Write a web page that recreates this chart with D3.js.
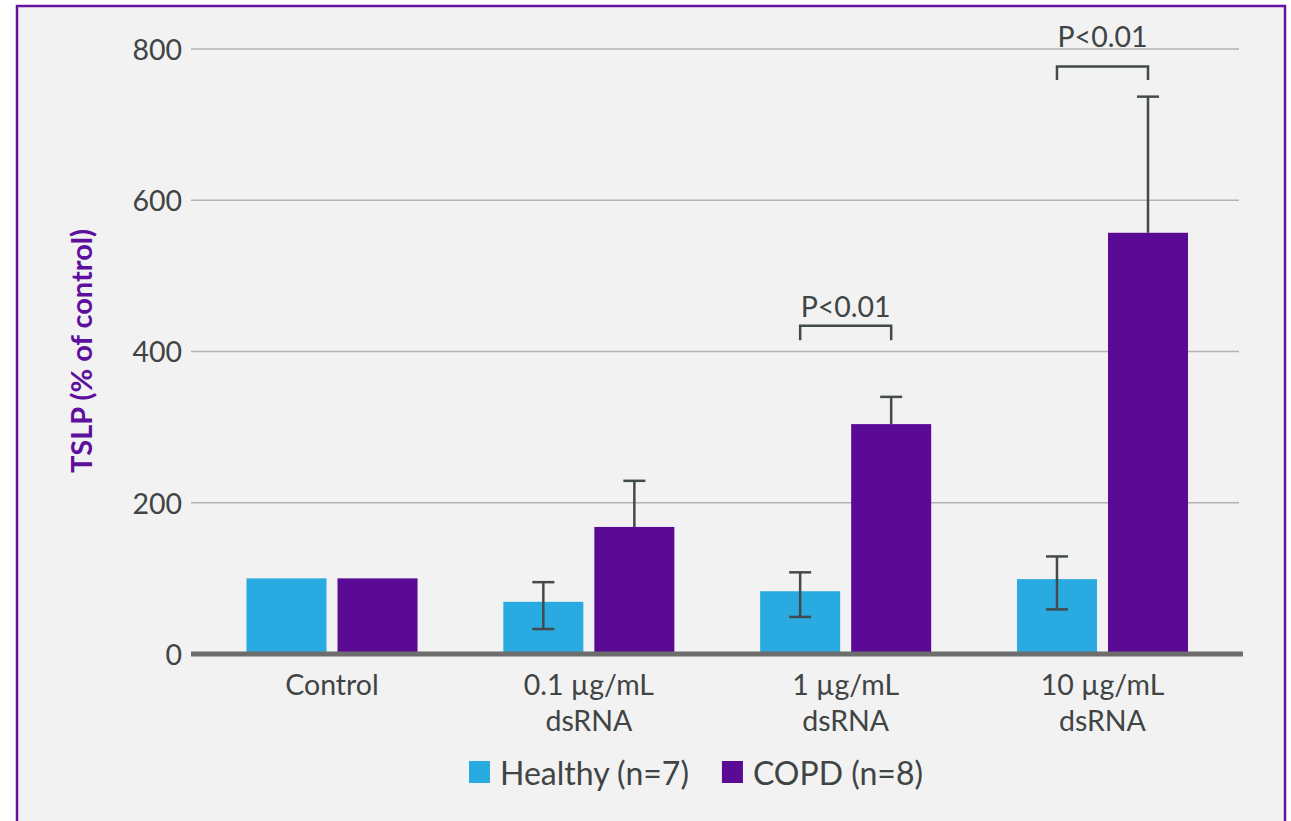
<!DOCTYPE html>
<html>
<head>
<meta charset="utf-8">
<script src="https://cdn.jsdelivr.net/npm/d3@7"></script>
<style>
  html, body { margin: 0; padding: 0; background: #ffffff; }
  svg { display: block; }
  text { font-family: Lato, "Noto Sans", sans-serif; }
</style>
</head>
<body>
<svg id="chart" width="1291" height="821"></svg>
<script>
// ---- data ----
const categories = ["Control", "0.1 µg/mL\ndsRNA", "1 µg/mL\ndsRNA", "10 µg/mL\ndsRNA"];
const seriesNames = ["Healthy (n=7)", "COPD (n=8)"];
const healthyValues = [100, 69, 83, 99];
const copdValues = [100, 168, 304, 557];
// error bar extents (lower, upper); null = not shown
const healthyErrLow = [null, 33, 49, 59];
const healthyErrHigh = [null, 95, 108, 129];
const copdErrLow = [null, null, null, null];
const copdErrHigh = [null, 229, 340, 737];
const yTicks = [0, 200, 400, 600, 800];
const sigCategories = ["1 µg/mL\ndsRNA", "10 µg/mL\ndsRNA"];
const sigLabels = ["P<0.01", "P<0.01"];
const sigLevels = [434, 777];
const sigLegLevels = [415, 759];
const sigLabelLevels = [446, 803];
const yTitle = "TSLP (% of control)";

const colors = ["#29abe2", "#5b0a96"];
const textColor = "#404444";

const svg = d3.select("#chart");

// frame
svg.append("rect")
  .attr("x", 17).attr("y", 6).attr("width", 1268).attr("height", 860)
  .attr("fill", "#f2f2f2").attr("stroke", "#6414a0").attr("stroke-width", 2.5);

const y = d3.scaleLinear().domain([0, 800]).range([654, 49]);
const x0 = d3.scaleBand().domain(categories).range([203.6, 1230.9])
  .paddingInner(0.334).paddingOuter(0.167);
const x1 = d3.scaleBand().domain(seriesNames).range([0, x0.bandwidth()])
  .paddingInner(0.121).paddingOuter(0);

const plotLeft = 191, plotRight = 1239;

// gridlines
svg.append("g").selectAll("line")
  .data(yTicks.filter(d => d > 0)).join("line")
  .attr("x1", plotLeft).attr("x2", plotRight)
  .attr("y1", d => y(d)).attr("y2", d => y(d))
  .attr("stroke", "#b3b3b3").attr("stroke-width", 1.5);

// y tick labels
const yAxis = d3.axisLeft(y).tickValues(yTicks).tickSize(0).tickPadding(0);
const ya = svg.append("g").attr("transform", "translate(182,0)").call(yAxis);
ya.select(".domain").remove();
ya.selectAll("text")
  .attr("fill", textColor).attr("font-size", 28.5).attr("dy", "0.36em")
  .style("font-family", "Lato, 'Noto Sans', sans-serif");

// bars
const rows = categories.map((c, i) => ({
  cat: c,
  vals: [
    { s: seriesNames[0], v: healthyValues[i], lo: healthyErrLow[i], hi: healthyErrHigh[i], k: 0 },
    { s: seriesNames[1], v: copdValues[i], lo: copdErrLow[i], hi: copdErrHigh[i], k: 1 }
  ]
}));

const groups = svg.append("g").selectAll("g").data(rows).join("g")
  .attr("transform", d => `translate(${x0(d.cat)},0)`);

groups.selectAll("rect").data(d => d.vals).join("rect")
  .attr("x", d => x1(d.s)).attr("width", x1.bandwidth())
  .attr("y", d => y(d.v)).attr("height", d => y(0) - y(d.v))
  .attr("fill", d => colors[d.k]);

// error bars
const errG = groups.selectAll("g.err").data(d => d.vals.filter(v => v.hi !== null)).join("g")
  .attr("class", "err")
  .attr("transform", d => `translate(${x1(d.s) + x1.bandwidth() / 2},0)`);
errG.append("line")
  .attr("y1", d => y(d.lo !== null ? d.lo : d.v)).attr("y2", d => y(d.hi))
  .attr("stroke", "#434a4a").attr("stroke-width", 2.5);
errG.append("line")
  .attr("x1", -11).attr("x2", 11).attr("y1", d => y(d.hi)).attr("y2", d => y(d.hi))
  .attr("stroke", "#434a4a").attr("stroke-width", 2.5);
errG.filter(d => d.lo !== null).append("line")
  .attr("x1", -11).attr("x2", 11).attr("y1", d => y(d.lo)).attr("y2", d => y(d.lo))
  .attr("stroke", "#434a4a").attr("stroke-width", 2.5);

// zero axis line
svg.append("line")
  .attr("x1", plotLeft).attr("x2", 1243).attr("y1", y(0)).attr("y2", y(0))
  .attr("stroke", "#6d6d6d").attr("stroke-width", 5);

// x category labels
const xAxis = d3.axisBottom(x0).tickSize(0).tickFormat("");
svg.append("g").attr("transform", `translate(0,${y(0)})`).call(xAxis)
  .select(".domain").remove();
const catLabels = svg.append("g").selectAll("text").data(categories).join("text")
  .attr("x", d => x0(d) + x0.bandwidth() / 2)
  .attr("y", 695)
  .attr("text-anchor", "middle")
  .attr("fill", textColor).attr("font-size", 28.5);
catLabels.selectAll("tspan").data(d => d.split("\n")).join("tspan")
  .attr("x", function () { return d3.select(this.parentNode).attr("x"); })
  .attr("dy", (d, i) => i === 0 ? 0 : 36)
  .text(d => d);

// significance brackets
sigCategories.forEach((c, i) => {
  const xa = x0(c) + x1(seriesNames[0]) + x1.bandwidth() / 2;
  const xb = x0(c) + x1(seriesNames[1]) + x1.bandwidth() / 2;
  const yt = y(sigLevels[i]), yl = y(sigLegLevels[i]);
  svg.append("path")
    .attr("d", `M${xa},${yl}V${yt}H${xb}V${yl}`)
    .attr("fill", "none").attr("stroke", "#434a4a").attr("stroke-width", 2.5);
  svg.append("text")
    .attr("x", (xa + xb) / 2).attr("y", y(sigLabelLevels[i]))
    .attr("text-anchor", "middle").attr("fill", textColor).attr("font-size", 28.5)
    .text(sigLabels[i]);
});

// y axis title
svg.append("text")
  .attr("transform", "translate(92,351) rotate(-90)")
  .attr("text-anchor", "middle")
  .attr("fill", "#5e0f9e").attr("font-size", 29).attr("font-weight", "bold")
  .text(yTitle);

// legend
const legend = svg.append("g");
let lx = 469;
seriesNames.forEach((s, i) => {
  legend.append("rect").attr("x", lx).attr("y", 761).attr("width", 21).attr("height", 22)
    .attr("fill", colors[i]);
  const t = legend.append("text").attr("x", lx + 31).attr("y", 785)
    .attr("fill", textColor).attr("font-size", 32).text(s);
  lx = lx + 31 + t.node().getComputedTextLength() + 33;
});
</script>
</body>
</html>
